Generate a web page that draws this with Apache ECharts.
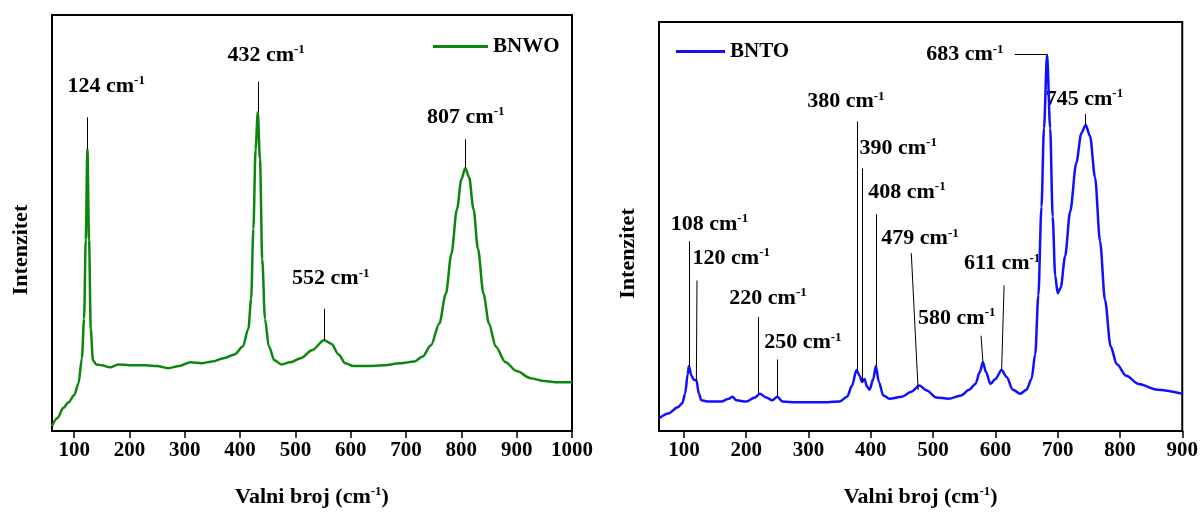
<!DOCTYPE html>
<html>
<head>
  <meta charset="UTF-8">
  <title>BNWO / BNTO Raman</title>
  <script src="https://cdn.jsdelivr.net/npm/echarts@6/dist/echarts.min.js"></script>
  <style>
    html, body { margin: 0; padding: 0; background: #fff; }
    #chart { width: 1201px; height: 513px; }
  </style>
</head>
<body>
  <div id="chart"></div>
  <script>
    // BNWO spektar (valni broj, intenzitet u proizvoljnim jedinicama)
    const bnwoX = [60, 70, 80, 90, 100, 108, 114, 118, 121, 124, 127, 130, 134, 140, 150, 165, 180, 200, 230, 250,
      270, 290, 310, 330, 350, 370, 390, 405, 415, 420, 424, 428, 432, 436, 440, 445, 452, 462, 475, 490,
      510, 530, 552, 565, 578, 590, 605, 630, 660, 690, 715, 730, 745, 760, 772, 782, 792, 800, 807, 814,
      822, 830, 840, 850, 862, 880, 900, 925, 950, 975, 1000];
    const bnwoY = [1.2, 3.1, 5.5, 6.9, 8.6, 11.5, 17.5, 27, 46, 67.7, 46, 24.6, 17, 16, 15.8, 15.3, 16, 15.8, 15.8, 15.6,
      15.1, 15.6, 16.5, 16.3, 16.7, 17.5, 18.4, 20.3, 24.6, 31.8, 48.6, 67.7, 76.6, 65.3, 41.4, 27, 20.3, 17, 16, 16.5,
      17.5, 19.4, 21.8, 21, 18.4, 16.3, 15.6, 15.6, 15.8, 16.3, 16.7, 17.9, 20.6, 25.8, 33, 42.6, 53.3, 60.5, 63.2, 61,
      53.3, 43.8, 33, 25.8, 20.3, 16.5, 14.4, 12.7, 12, 11.7, 11.7];

    // BNTO spektar
    const bntoX = [60, 75, 90, 97, 102, 106, 108, 112, 116, 120, 124, 128, 140, 160, 172, 178, 184, 200, 214, 222,
      232, 242, 250, 258, 280, 320, 350, 362, 370, 377, 382, 386, 390, 394, 398, 404, 408, 413, 420, 430,
      450, 465, 478, 490, 505, 525, 545, 558, 568, 575, 580, 585, 592, 600, 610, 618, 628, 640, 650, 658,
      664, 669, 674, 678, 683, 688, 692, 696, 700, 705, 712, 720, 730, 738, 745, 752, 760, 768, 776, 785,
      795, 810, 830, 860, 900];
    const bntoY = [3.1, 4.3, 5.8, 6.7, 9.1, 13.9, 15.9, 13.5, 12.5, 12.5, 9.1, 7.5, 7.2, 7.2, 7.9, 8.4, 7.5, 7.2, 8.2, 9.1,
      8.2, 7.5, 8.4, 7.2, 7, 7, 7.2, 8.4, 11.1, 14.9, 13.5, 12, 12.7, 10.8, 10.1, 12.7, 15.9, 12, 8.7, 7.9,
      8.4, 9.6, 11.1, 9.9, 8.2, 7.9, 8.7, 10.1, 11.5, 14.4, 16.8, 14.4, 11.5, 12.7, 14.9, 13.2, 10.1, 9.1, 10.1, 12.7,
      18.8, 33.2, 54.8, 74, 92, 74, 52.4, 38, 33.7, 35.1, 42.8, 53.6, 65.6, 72.8, 74.8, 72.1, 62, 46.4, 32, 20.7,
      16.3, 13.5, 11.5, 10.1, 9.1];

    // oznake pikova: tekst, linija [x1, y1, x2, y2], polozaj teksta [x, y]
    const bnwoPeaks = ['124', '432', '807', '552'];
    const bnwoLines = [[124, 67.7, 124, 75.4], [432, 76.6, 432, 84], [807, 63.2, 807, 70.1], [552, 21.8, 552, 29.4]];
    const bnwoLabelPos = [[158, 82.8], [447, 90.4], [808, 75.4], [564, 36.6]];

    const bntoPeaks = ['108', '120', '220', '250', '380', '390', '408', '479', '580', '611', '683', '745'];
    const bntoLines = [[108, 15.9, 108, 46.4], [120, 12.5, 121, 36.8], [220, 9.1, 220, 27.9], [250, 8.4, 250, 17.5],
      [378, 14.9, 378, 75.7], [386, 12, 386, 64.2], [408, 15.9, 408, 53], [476, 10, 465, 43.5],
      [580, 16.8, 577, 23.3], [610, 14.9, 614, 35.6], [631, 92.2, 683, 92.2], [745, 74.8, 745, 77.5]];
    const bntoLabelPos = [[141, 50.5], [176, 42.3], [235, 32.5], [291, 21.6], [360, 80.5], [444, 69.2],
      [458, 58.4], [479, 47], [538, 27.6], [611, 40.9], [551, 92], [743, 81.2]];

    const xTicksLeft = [100, 200, 300, 400, 500, 600, 700, 800, 900, 1000];
    const xTicksRight = [100, 200, 300, 400, 500, 600, 700, 800, 900];

    const font = 'Liberation Serif, Times New Roman, serif';
    const black = '#000';

    function zip(xs, ys) { return xs.map((x, i) => [x, ys[i]]); }

    function rich(size) {
      return {
        n: { fontFamily: font, fontWeight: 'bold', fontSize: size, color: black, textBorderWidth: 0 },
        s: { fontFamily: font, fontWeight: 'bold', fontSize: Math.round(size * 0.58), color: black, textBorderWidth: 0,
          verticalAlign: 'top', padding: [0, 0, Math.round(size * 0.5), 0] }
      };
    }

    function lineData(lines) {
      return lines.map(l => [{ coord: [l[0], l[1]] }, { coord: [l[2], l[3]] }]);
    }
    function labelData(peaks, pos) {
      return peaks.map((p, i) => ({ value: pos[i], name: p }));
    }

    function xAxis(idx, ticks, max) {
      return {
        type: 'value', gridIndex: idx, min: 60, max: max,
        name: '{n|Valni broj (cm}{s|-1}{n|)}', nameLocation: 'middle', nameGap: 54,
        nameTextStyle: { rich: rich(22) },
        axisLine: { onZero: false, lineStyle: { color: black, width: 2 } },
        axisTick: { inside: false, length: 7, lineStyle: { color: black, width: 1.5 }, customValues: ticks },
        minorTick: { show: true, splitNumber: 2, length: 4, lineStyle: { color: black, width: 1.5 } },
        axisLabel: { color: black, fontFamily: font, fontWeight: 'bold', fontSize: 21, margin: 9,
          customValues: ticks, formatter: v => String(v) },
        splitLine: { show: false }
      };
    }
    function yAxis(idx) {
      return {
        type: 'value', gridIndex: idx, min: 0, max: 100,
        name: 'Intenzitet', nameLocation: 'middle', nameGap: 20, nameRotate: 90,
        nameTextStyle: { color: black, fontFamily: font, fontWeight: 'bold', fontSize: 22, padding: [0, 54, 0, 0] },
        axisLine: { show: true, lineStyle: { color: black, width: 2 } },
        axisTick: { show: false }, axisLabel: { show: false }, splitLine: { show: false }
      };
    }

    function peakSeries(idx, peaks, lines, pos) {
      return [{
        type: 'line', xAxisIndex: idx, yAxisIndex: idx, data: [], silent: true,
        markLine: { silent: true, symbol: 'none', animation: false, label: { show: false },
          lineStyle: { color: black, width: 1, type: 'solid' }, data: lineData(lines) }
      }, {
        type: 'scatter', xAxisIndex: idx, yAxisIndex: idx, symbolSize: 0, silent: true,
        itemStyle: { color: black, opacity: 1 },
        data: labelData(peaks, pos),
        label: { show: true, position: 'inside', color: black, textBorderWidth: 0, opacity: 1,
          formatter: p => '{n|' + p.name + ' cm}{s|-1}', rich: rich(22) }
      }];
    }

    const legendText = { fontFamily: font, fontWeight: 'bold', fontSize: 21, color: black };

    const chart = echarts.init(document.getElementById('chart'));
    chart.setOption({
      animation: false,
      grid: [
        { left: 52, right: 629, top: 15, bottom: 80, show: true, borderColor: black, borderWidth: 2 },
        { left: 659, right: 17, top: 22, bottom: 75, show: true, borderColor: black, borderWidth: 2 }
      ],
      legend: [
        { data: ['BNWO'], left: 428, top: 31, itemWidth: 55, itemHeight: 3, itemGap: 4,
          icon: 'rect', textStyle: legendText },
        { data: ['BNTO'], left: 671, top: 36, itemWidth: 49, itemHeight: 3, itemGap: 6,
          icon: 'rect', textStyle: legendText }
      ],
      xAxis: [xAxis(0, xTicksLeft, 1000), xAxis(1, xTicksRight, 900)],
      yAxis: [yAxis(0), yAxis(1)],
      series: [
        { name: 'BNWO', type: 'line', xAxisIndex: 0, yAxisIndex: 0, data: zip(bnwoX, bnwoY),
          showSymbol: false, smooth: 0.3, smoothMonotone: 'x', color: '#0c870c', lineStyle: { width: 2.5 } },
        { name: 'BNTO', type: 'line', xAxisIndex: 1, yAxisIndex: 1, data: zip(bntoX, bntoY),
          showSymbol: false, smooth: 0.3, smoothMonotone: 'x', color: '#1010ff', lineStyle: { width: 2.5 } },
        ...peakSeries(0, bnwoPeaks, bnwoLines, bnwoLabelPos),
        ...peakSeries(1, bntoPeaks, bntoLines, bntoLabelPos)
      ]
    });
  </script>
</body>
</html>
